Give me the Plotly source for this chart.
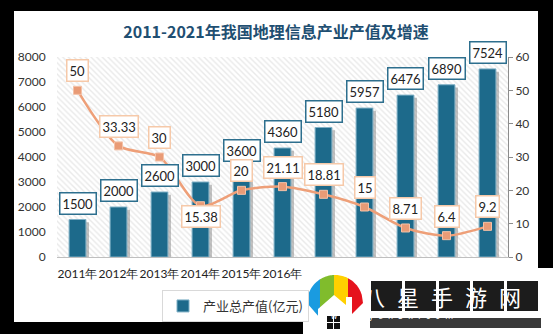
import math
import plotly.graph_objects as go

years = ["2011年", "2012年", "2013年", "2014年", "2015年", "2016年",
         "2017年", "2018年", "2019年", "2020年", "2021年"]
output_value = [1500, 2000, 2600, 3000, 3600, 4360, 5180, 5957, 6476, 6890, 7524]
growth_rate = [50, 33.33, 30, 15.38, 20, 21.11, 18.81, 15, 8.71, 6.4, 9.2]
bar_name = "产业总产值(亿元)"
line_name = "增速(%)"
title_text = "2011-2021年我国地理信息产业产值及增速"

W, H = 553, 334
L, R, T, B = 57, 508, 57, 257  # plot area in pixels


def px(x):
    return (x - L) / (R - L)


def py(y):
    return (B - y) / (B - T)


NUM_FONT = "Lato, sans-serif"
CJK_FONT = "Noto Sans CJK SC, sans-serif"
BAR_COLOR = "#1d6a8b"
LINE_COLOR = "#ee9f78"

fig = go.Figure()

# hatched plot-area background
fig.add_trace(go.Bar(
    x=[0.5], y=[1], width=[1], xaxis="x", yaxis="y",
    marker=dict(color="white", line=dict(width=0),
                pattern=dict(shape="\\", fgcolor="#d4d4d4", bgcolor="white",
                             size=4, solidity=0.35)),
    hoverinfo="skip", showlegend=False))

# bar shadows
fig.add_trace(go.Bar(
    x=years, y=output_value, base=-110, width=0.41, offset=-0.205 + 0.075,
    xaxis="x2", yaxis="y2", marker=dict(color="rgba(120,120,120,0.45)", line=dict(width=0)),
    hoverinfo="skip", showlegend=False))

fig.add_trace(go.Bar(
    x=years, y=output_value, width=0.41, name=bar_name,
    xaxis="x2", yaxis="y2",
    marker=dict(color=BAR_COLOR, line=dict(color="#7fb0c6", width=1))))

fig.add_trace(go.Scatter(
    x=years, y=growth_rate, name=line_name, mode="lines+markers",
    xaxis="x2", yaxis="y3", showlegend=False,
    line=dict(color=LINE_COLOR, width=2.5, shape="spline", smoothing=0.8),
    marker=dict(symbol="square", size=8, color="#e99b76",
                line=dict(color="#f4c2a8", width=1))))

annotations = []
for yr, v in zip(years, output_value):
    annotations.append(dict(
        x=yr, y=v, xref="x2", yref="y2", text=str(v), showarrow=False,
        yanchor="bottom", yshift=5,
        font=dict(family=NUM_FONT, size=13, color="#222"),
        bgcolor="white", bordercolor="#2d6f8e", borderwidth=1.5, borderpad=2))
for i, (yr, v) in enumerate(zip(years, growth_rate)):
    below = (i == 3)
    annotations.append(dict(
        x=yr, y=v, xref="x2", yref="y3", text=f"{v:g}", showarrow=False,
        yanchor="top" if below else "bottom", yshift=1 if below else 8,
        font=dict(family=NUM_FONT, size=13, color="#222"),
        bgcolor="white", bordercolor="#f6c9a9", borderwidth=1.5, borderpad=2))

shapes = [
    # white chart panel on black frame
    dict(type="rect", xref="paper", yref="paper", layer="below",
         x0=px(14), x1=px(538), y0=py(322), y1=py(11),
         fillcolor="white", line=dict(width=0)),
]

# ---- watermark overlay ----
shapes.append(dict(type="rect", xref="paper", yref="paper", layer="above",
                   x0=px(303), x1=px(553), y0=py(334), y1=py(268),
                   fillcolor="#ffffff", line=dict(width=0), opacity=1))

cx, cy, rr = 335, 303, 28
ybot = 318


def stripe(xa, xb):
    pts = []
    n = 12
    for k in range(n + 1):
        x = xa + (xb - xa) * k / n
        d = rr * rr - (x - cx) ** 2
        pts.append((x, cy - math.sqrt(max(d, 0))))

    def ylow(x):
        d = rr * rr - (x - cx) ** 2
        return min(ybot, cy + math.sqrt(max(d, 0)))
    pts.append((xb, ylow(xb)))
    pts.append((xa, ylow(xa)))
    return "M " + " L ".join(f"{px(a):.4f},{py(b):.4f}" for a, b in pts) + " Z"


for (xa, xb), col in zip([(307, 320), (320, 334), (334, 348), (348, 363)],
                         ["#1a9be0", "#80bc2c", "#ffd000", "#e5121d"]):
    shapes.append(dict(type="path", xref="paper", yref="paper", layer="above",
                       path=stripe(xa, xb), fillcolor=col, line=dict(width=0)))

house = [(318, 320), (318, 309), (334, 295), (346, 305), (346, 297), (352, 297), (352, 320)]
shapes.append(dict(type="path", xref="paper", yref="paper", layer="above",
                   path="M " + " L ".join(f"{px(a):.4f},{py(b):.4f}" for a, b in house) + " Z",
                   fillcolor="white", line=dict(width=0)))
for (a, b) in [(327, 316), (334, 316), (327, 323), (334, 323)]:
    shapes.append(dict(type="rect", xref="paper", yref="paper", layer="above",
                       x0=px(a), x1=px(a + 6), y0=py(b + 6), y1=py(b),
                       fillcolor="#111", line=dict(width=0)))

for i, ch in enumerate("八星手游网"):
    x0 = 371 + i * 34
    shapes.append(dict(type="rect", xref="paper", yref="paper", layer="above",
                       x0=px(x0), x1=px(x0 + 31), y0=py(311), y1=py(281),
                       fillcolor="#1c1c1c", line=dict(width=0)))
    annotations.append(dict(x=px(x0 + 15.5), y=py(296), xref="paper", yref="paper",
                            text=ch, showarrow=False, yanchor="middle",
                            font=dict(family=CJK_FONT, size=22, color="white")))
shapes.append(dict(type="rect", xref="paper", yref="paper", layer="above",
                   x0=px(370), x1=px(541), y0=py(328), y1=py(318),
                   fillcolor="#3a3a3a", line=dict(width=0)))
annotations.append(dict(x=px(455), y=py(323), xref="paper", yref="paper",
                        text="w  w  w  .  l  y  s  h  b  x  .  c  o  m", showarrow=False,
                        font=dict(family="DejaVu Sans, sans-serif", size=8, color="white")))

fig.update_layout(
    width=W, height=H,
    margin=dict(l=L, r=W - R, t=T, b=H - B, pad=0),
    paper_bgcolor="black", plot_bgcolor="white",
    barmode="overlay",
    title=dict(text=title_text, x=276 / W, xref="container",
               y=1 - 32 / H, yanchor="middle", xanchor="center",
               font=dict(family=CJK_FONT, size=16, color="#1f4f72", weight="bold")),
    xaxis=dict(range=[0, 1], visible=False, domain=[0, 1], fixedrange=True),
    yaxis=dict(range=[0, 1], visible=False, domain=[0, 1], fixedrange=True),
    xaxis2=dict(type="category", categoryorder="array", categoryarray=years,
                range=[-0.5, 10.5], overlaying="x", anchor="y2",
                showline=True, linecolor="#bfbfbf", linewidth=1, showgrid=False,
                ticks="outside", ticklen=6, tickcolor="rgba(0,0,0,0)", tickangle=0,
                tickfont=dict(family=NUM_FONT, size=12, color="#222")),
    yaxis2=dict(range=[0, 8000], dtick=1000, overlaying="y", anchor="x2", side="left",
                showgrid=False, showline=False, zeroline=False, ticks="outside",
                ticklen=8, tickcolor="rgba(0,0,0,0)",
                tickfont=dict(family=NUM_FONT, size=12, color="#333")),
    yaxis3=dict(range=[0, 60], dtick=10, overlaying="y", anchor="x2", side="right",
                showgrid=False, showline=True, linecolor="#8c8c8c", zeroline=False,
                ticks="outside", ticklen=4, tickcolor="#8c8c8c",
                tickfont=dict(family=NUM_FONT, size=12, color="#333")),
    legend=dict(orientation="h", x=px(162), xanchor="left", y=py(290), yanchor="top",
                bgcolor="white", bordercolor="#d9d9d9", borderwidth=1,
                font=dict(family=CJK_FONT, size=13, color="#333")),
    shapes=shapes,
    annotations=annotations,
    showlegend=True,
)

fig.write_html("out.html")
